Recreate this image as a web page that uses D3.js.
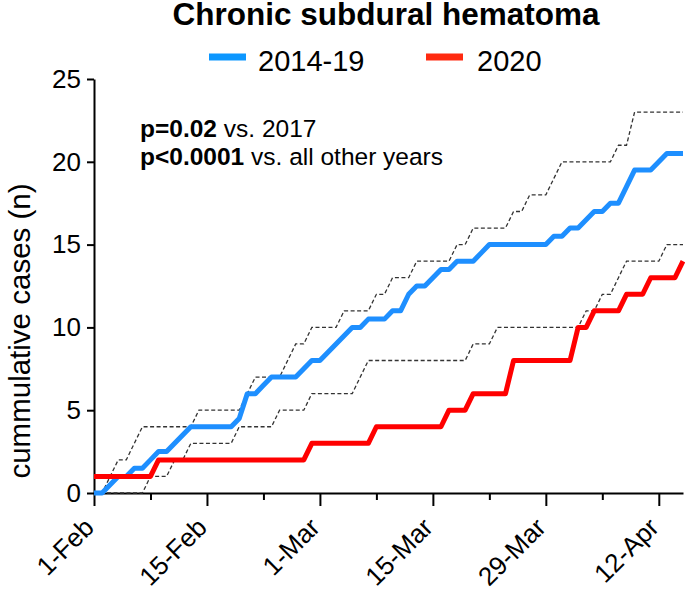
<!DOCTYPE html>
<html>
<head>
<meta charset="utf-8">
<script src="https://cdn.jsdelivr.net/npm/d3@7"></script>
<style>
  body { margin: 0; background: #fff; }
  svg { font-family: "Liberation Sans", Arial, Helvetica, sans-serif; }
</style>
</head>
<body>
<svg id="chart"></svg>
<script>
// day index 0 = 1-Feb, one value per day up to 14-Apr
const mean2014to19 = [
  0, 0, 0.5, 1, 1, 1.5, 1.5, 2, 2.5, 2.5,
  3, 3.5, 4, 4, 4, 4, 4, 4, 4.5, 6,
  6, 6.5, 7, 7, 7, 7, 7.5, 8, 8, 8.5,
  9, 9.5, 10, 10, 10.5, 10.5, 10.5, 11, 11, 12,
  12.5, 12.5, 13, 13.5, 13.5, 14, 14, 14, 14.5, 15,
  15, 15, 15, 15, 15, 15, 15, 15.5, 15.5, 16,
  16, 16.5, 17, 17, 17.5, 17.5, 18.5, 19.5, 19.5, 19.5,
  20, 20.5, 20.5, 20.5
];
const upper2014to19 = [
  0, 0, 1, 2, 2, 3, 4, 4, 4, 4,
  4, 4, 4, 5, 5, 5, 5, 5, 5, 6,
  7, 7, 7, 7, 8, 9, 9, 10, 10, 10,
  10, 11, 11, 11, 11, 12, 12, 13, 13, 13,
  14, 14, 14, 14, 14, 15, 15, 16, 16, 16,
  16, 16, 17, 17, 18, 18, 18, 19, 20, 20,
  20, 20, 20, 20, 20, 21, 21, 23, 23, 23,
  23, 23, 23, 23
];
const lower2014to19 = [
  0, 0, 0, 0, 0, 0, 0, 1, 1, 1,
  2, 2, 3, 3, 3, 3, 3, 3, 4, 4,
  4, 4, 4, 5, 5, 5, 5, 6, 6, 6,
  6, 6, 6, 7, 8, 8, 8, 8, 8, 8,
  8, 8, 8, 8, 8, 8, 8, 9, 9, 9,
  10, 10, 10, 10, 10, 10, 10, 10, 10, 10,
  10, 11, 11, 12, 12, 13, 14, 14, 14, 14,
  14, 15, 15, 15
];
const cases2020 = [
  1, 1, 1, 1, 1, 1, 1, 1, 2, 2,
  2, 2, 2, 2, 2, 2, 2, 2, 2, 2,
  2, 2, 2, 2, 2, 2, 2, 3, 3, 3,
  3, 3, 3, 3, 3, 4, 4, 4, 4, 4,
  4, 4, 4, 4, 5, 5, 5, 6, 6, 6,
  6, 6, 8, 8, 8, 8, 8, 8, 8, 8,
  10, 10, 11, 11, 11, 11, 12, 12, 12, 13,
  13, 13, 13, 14
];
const majorTickDays = [0, 14, 28, 42, 56, 70];
const majorTickLabels = ['1-Feb', '15-Feb', '1-Mar', '15-Mar', '29-Mar', '12-Apr'];
const minorTickDays = [7, 21, 35, 49, 63];
const yTicks = [0, 5, 10, 15, 20, 25];
const seriesNames = ['2014-19', '2020'];

const W = 685, H = 595;
const svg = d3.select('#chart').attr('width', W).attr('height', H);

const x = d3.scaleLinear().domain([0, mean2014to19.length - 1]).range([94, 683]);
const y = d3.scaleLinear().domain([0, 25]).range([493, 79]);

const line = d3.line()
  .x((d, i) => x(i))
  .y(d => y(d));

// axes
const yAxis = d3.axisLeft(y).tickValues(yTicks).tickSize(7).tickPadding(6).tickSizeOuter(0);
const gy = svg.append('g').attr('transform', `translate(${x(0)},0)`).call(yAxis);
gy.selectAll('path, line').attr('stroke', '#000').attr('stroke-width', 2);
gy.selectAll('text').attr('font-size', 26).attr('fill', '#000').attr('font-family', null);

const xMinor = d3.axisBottom(x).tickValues(minorTickDays).tickSize(7).tickFormat('').tickSizeOuter(0);
const gxm = svg.append('g').attr('transform', `translate(0,${y(0)})`).call(xMinor);
gxm.select('.domain').remove();
gxm.selectAll('line').attr('stroke', '#000').attr('stroke-width', 2);

const xAxis = d3.axisBottom(x).tickValues(majorTickDays)
  .tickFormat((d, i) => majorTickLabels[i]).tickSize(13).tickSizeOuter(0);
const gx = svg.append('g').attr('transform', `translate(0,${y(0)})`).call(xAxis);
gx.selectAll('path, line').attr('stroke', '#000').attr('stroke-width', 2);
gx.selectAll('text')
  .attr('font-size', 26).attr('fill', '#000').attr('font-family', null)
  .attr('x', 0).attr('y', 0).attr('dy', 0)
  .attr('text-anchor', 'end')
  .attr('transform', 'translate(1,36) rotate(-45)');

// range lines
[upper2014to19, lower2014to19].forEach(s => {
  svg.append('path')
    .datum(s)
    .attr('d', line)
    .attr('fill', 'none')
    .attr('stroke', '#333')
    .attr('stroke-width', 1.3)
    .attr('stroke-dasharray', '4,2.5');
});

svg.append('path')
  .datum(mean2014to19)
  .attr('d', line)
  .attr('fill', 'none')
  .attr('stroke', '#1e8fff')
  .attr('stroke-width', 5)
  .attr('stroke-linejoin', 'round');

svg.append('path')
  .datum(cases2020)
  .attr('d', line)
  .attr('fill', 'none')
  .attr('stroke', '#ff0000')
  .attr('stroke-width', 5)
  .attr('stroke-linejoin', 'round');

// y label
svg.append('text')
  .attr('transform', 'translate(30,331) rotate(-90)')
  .attr('text-anchor', 'middle')
  .attr('font-size', 29.5)
  .text('cummulative cases (n)');

// title
svg.append('text')
  .attr('x', 386).attr('y', 25)
  .attr('text-anchor', 'middle')
  .attr('font-size', 31.5)
  .attr('font-weight', 'bold')
  .text('Chronic subdural hematoma');

// legend
const legend = [
  { name: seriesNames[0], color: '#0c97ff', x0: 209, tx: 258 },
  { name: seriesNames[1], color: '#ff2a10', x0: 426, tx: 477 }
];
legend.forEach(l => {
  svg.append('line')
    .attr('x1', l.x0).attr('x2', l.x0 + 37)
    .attr('y1', 57).attr('y2', 57)
    .attr('stroke', l.color).attr('stroke-width', 7);
  svg.append('text')
    .attr('x', l.tx).attr('y', 71)
    .attr('font-size', 29)
    .text(l.name);
});

// statistics note
const note = svg.append('g').attr('font-size', 24.5);
const t1 = note.append('text').attr('x', 140).attr('y', 137);
t1.append('tspan').attr('font-weight', 'bold').text('p=0.02');
t1.append('tspan').text(' vs. 2017');
const t2 = note.append('text').attr('x', 140).attr('y', 165);
t2.append('tspan').attr('font-weight', 'bold').text('p<0.0001');
t2.append('tspan').text(' vs. all other years');
</script>
</body>
</html>
